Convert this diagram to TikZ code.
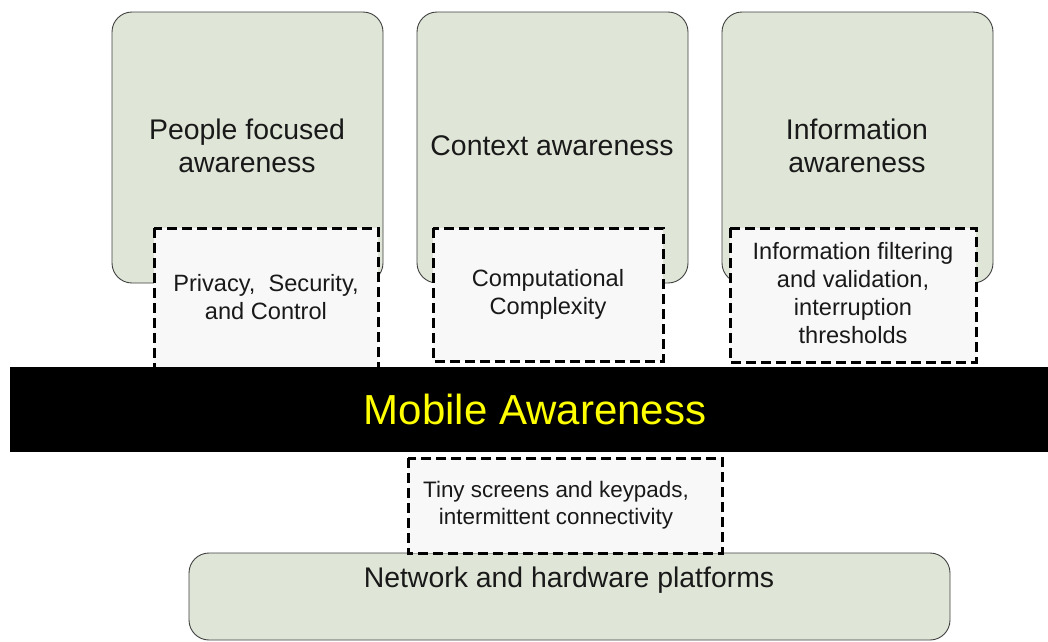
\documentclass[tikz,border=0pt]{standalone}
\usepackage{fontspec}
\setmainfont{Liberation Sans}
\begin{document}
\begin{tikzpicture}[x=1pt,y=-1pt,
  greenbox/.style={draw=black!75,line width=0.9pt,fill=green1,rounded corners=20pt},
  dashbox/.style={draw=black,line width=3pt,fill=gray1,dash pattern=on 10pt off 5pt},
  bigtext/.style={font=\fontsize{28.4}{33}\selectfont,align=center,text=black!90},
  smalltext/.style={font=\fontsize{23.6}{28}\selectfont,align=center,text=black!90}]
\definecolor{green1}{HTML}{DFE6D7}
\definecolor{gray1}{HTML}{F8F8F8}
\path[use as bounding box,fill=white] (0,0) rectangle (1048,641);
% top green boxes
\draw[greenbox] (112,12) rectangle (383,283);
\draw[greenbox] (417,12) rectangle (688,283);
\draw[greenbox] (722,12) rectangle (993,283);
\node[bigtext] (t1) at (247,146) {People focused\\awareness};
\node[bigtext] (t2) at (552,146) {Context awareness};
\node[bigtext] (t3) at (857,146) {Information\\awareness};
% dashed boxes on top
\draw[dashbox] (154,228) rectangle (378,368);
\draw[dashbox] (433,228) rectangle (663,361);
\draw[dashbox] (730,228) rectangle (976,362);
\node[smalltext] (d1) at (266,297) {Privacy,~~Security,\\and Control};
\node[smalltext] (d2) at (548,294) {Computational\\Complexity};
\node[smalltext] (d3) at (853,293) {Information filtering\\and validation,\\interruption\\thresholds};
% black bar
\fill[black] (10,367) rectangle (1048,452);
\node[font=\fontsize{42}{48}\selectfont,text={rgb,255:red,255;green,255;blue,0}] (mob) at (535,409) {Mobile Awareness};
% bottom
\draw[greenbox] (189,553) rectangle (950,640);
\draw[dashbox] (408,458) rectangle (722,553);
\node[smalltext,font=\fontsize{22.4}{27}\selectfont] (d4) at (556,505) {Tiny screens and keypads,\\intermittent connectivity};
\node[bigtext] (net) at (569,580) {Network and hardware platforms};
\end{tikzpicture}
\end{document}
